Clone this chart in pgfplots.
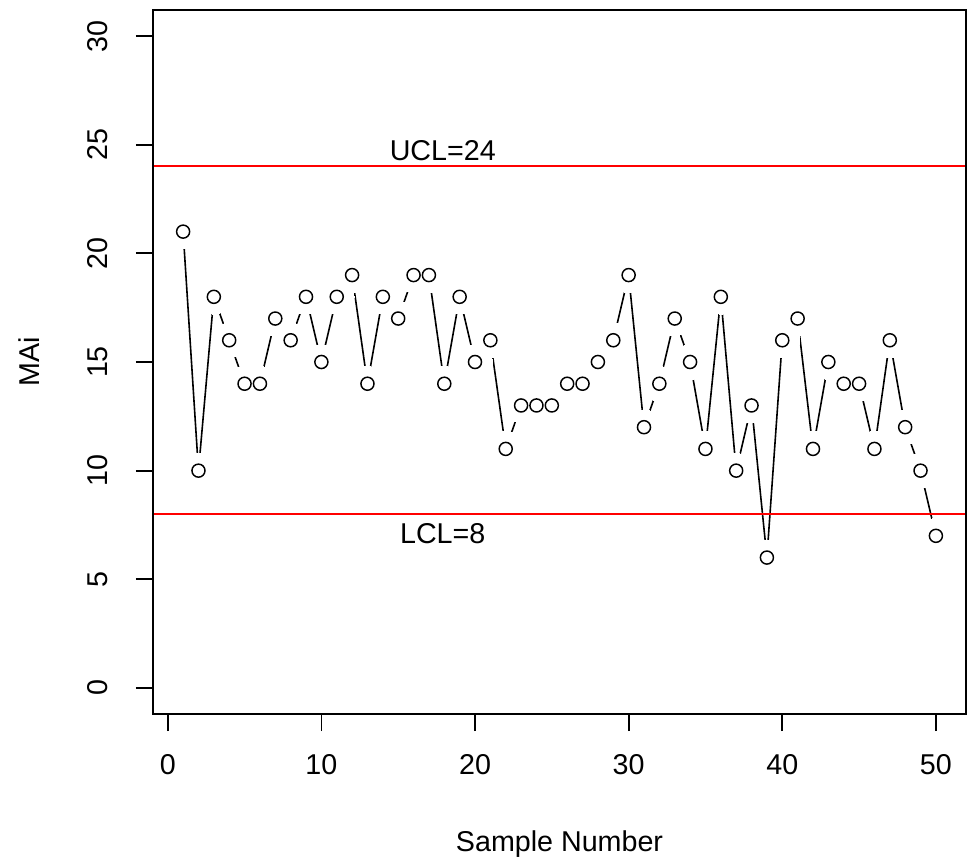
\documentclass[border=0pt]{standalone}
\usepackage{pgfplots}
\pgfplotsset{compat=1.18}
\usepackage{fontspec}
\setmainfont{Liberation Sans}
\begin{document}
\fontsize{21.5}{26}\selectfont
\begin{tikzpicture}
\useasboundingbox (0,0) rectangle (726.75pt,642pt);
\begin{axis}[
  at={(114.75pt,106.5pt)}, anchor=south west,
  scale only axis, width=609.75pt, height=528pt,
  xmin=-0.96, xmax=51.96, ymin=-1.2, ymax=31.2,
  xtick={0,10,20,30,40,50}, ytick={0,5,10,15,20,25,30},
  tick align=outside, major tick length=12.75pt,
  axis x line*=bottom, axis y line*=left,
  every outer x axis line/.append style={-},
  every outer y axis line/.append style={-},
  axis line style={line width=1.3pt},
  every tick/.style={black, line width=1.3pt},
  /pgf/number format/assume math mode=true,
  tick label style={font=\fontsize{21.5}{26}\selectfont},
  xticklabel style={yshift=-10pt},
  yticklabel style={rotate=90, anchor=south, yshift=13.5pt},
  xlabel={Sample Number}, ylabel={MAi},
  label style={font=\fontsize{21.5}{26}\selectfont},
  every axis x label/.style={at={(axis description cs:0.5,0)}, anchor=base, yshift=-103pt},
  every axis y label/.style={at={(axis description cs:-0.139,0.5)}, rotate=90, anchor=base},
  clip=false,
]
\pgfplotstableread{
x y
1 21
2 10
3 18
4 16
5 14
6 14
7 17
8 16
9 18
10 15
11 18
12 19
13 14
14 18
15 17
16 19
17 19
18 14
19 18
20 15
21 16
22 11
23 13
24 13
25 13
26 14
27 14
28 15
29 16
30 19
31 12
32 14
33 17
34 15
35 11
36 18
37 10
38 13
39 6
40 16
41 17
42 11
43 15
44 14
45 14
46 11
47 16
48 12
49 10
50 7
}\data
\addplot[black, line width=1.2pt, mark=none] table {\data};
\addplot[white, only marks, mark=*, mark size=13pt, mark options={fill=white, draw=white, line width=0pt}] table {\data};
\addplot[black, only marks, mark=o, mark size=4.9pt, mark options={black, line width=1.1pt}] table {\data};
\addplot[red, line width=1.5pt, mark=none] coordinates {(-0.96,24) (51.96,24)};
\addplot[red, line width=1.5pt, mark=none] coordinates {(-0.96,8) (51.96,8)};
\node at (axis cs:17.9,24.75) {UCL=24};
\node at (axis cs:17.9,7.1) {LCL=8};
\draw[line width=1.3pt] (rel axis cs:0,0) rectangle (rel axis cs:1,1);
\end{axis}
\end{tikzpicture}
\end{document}
